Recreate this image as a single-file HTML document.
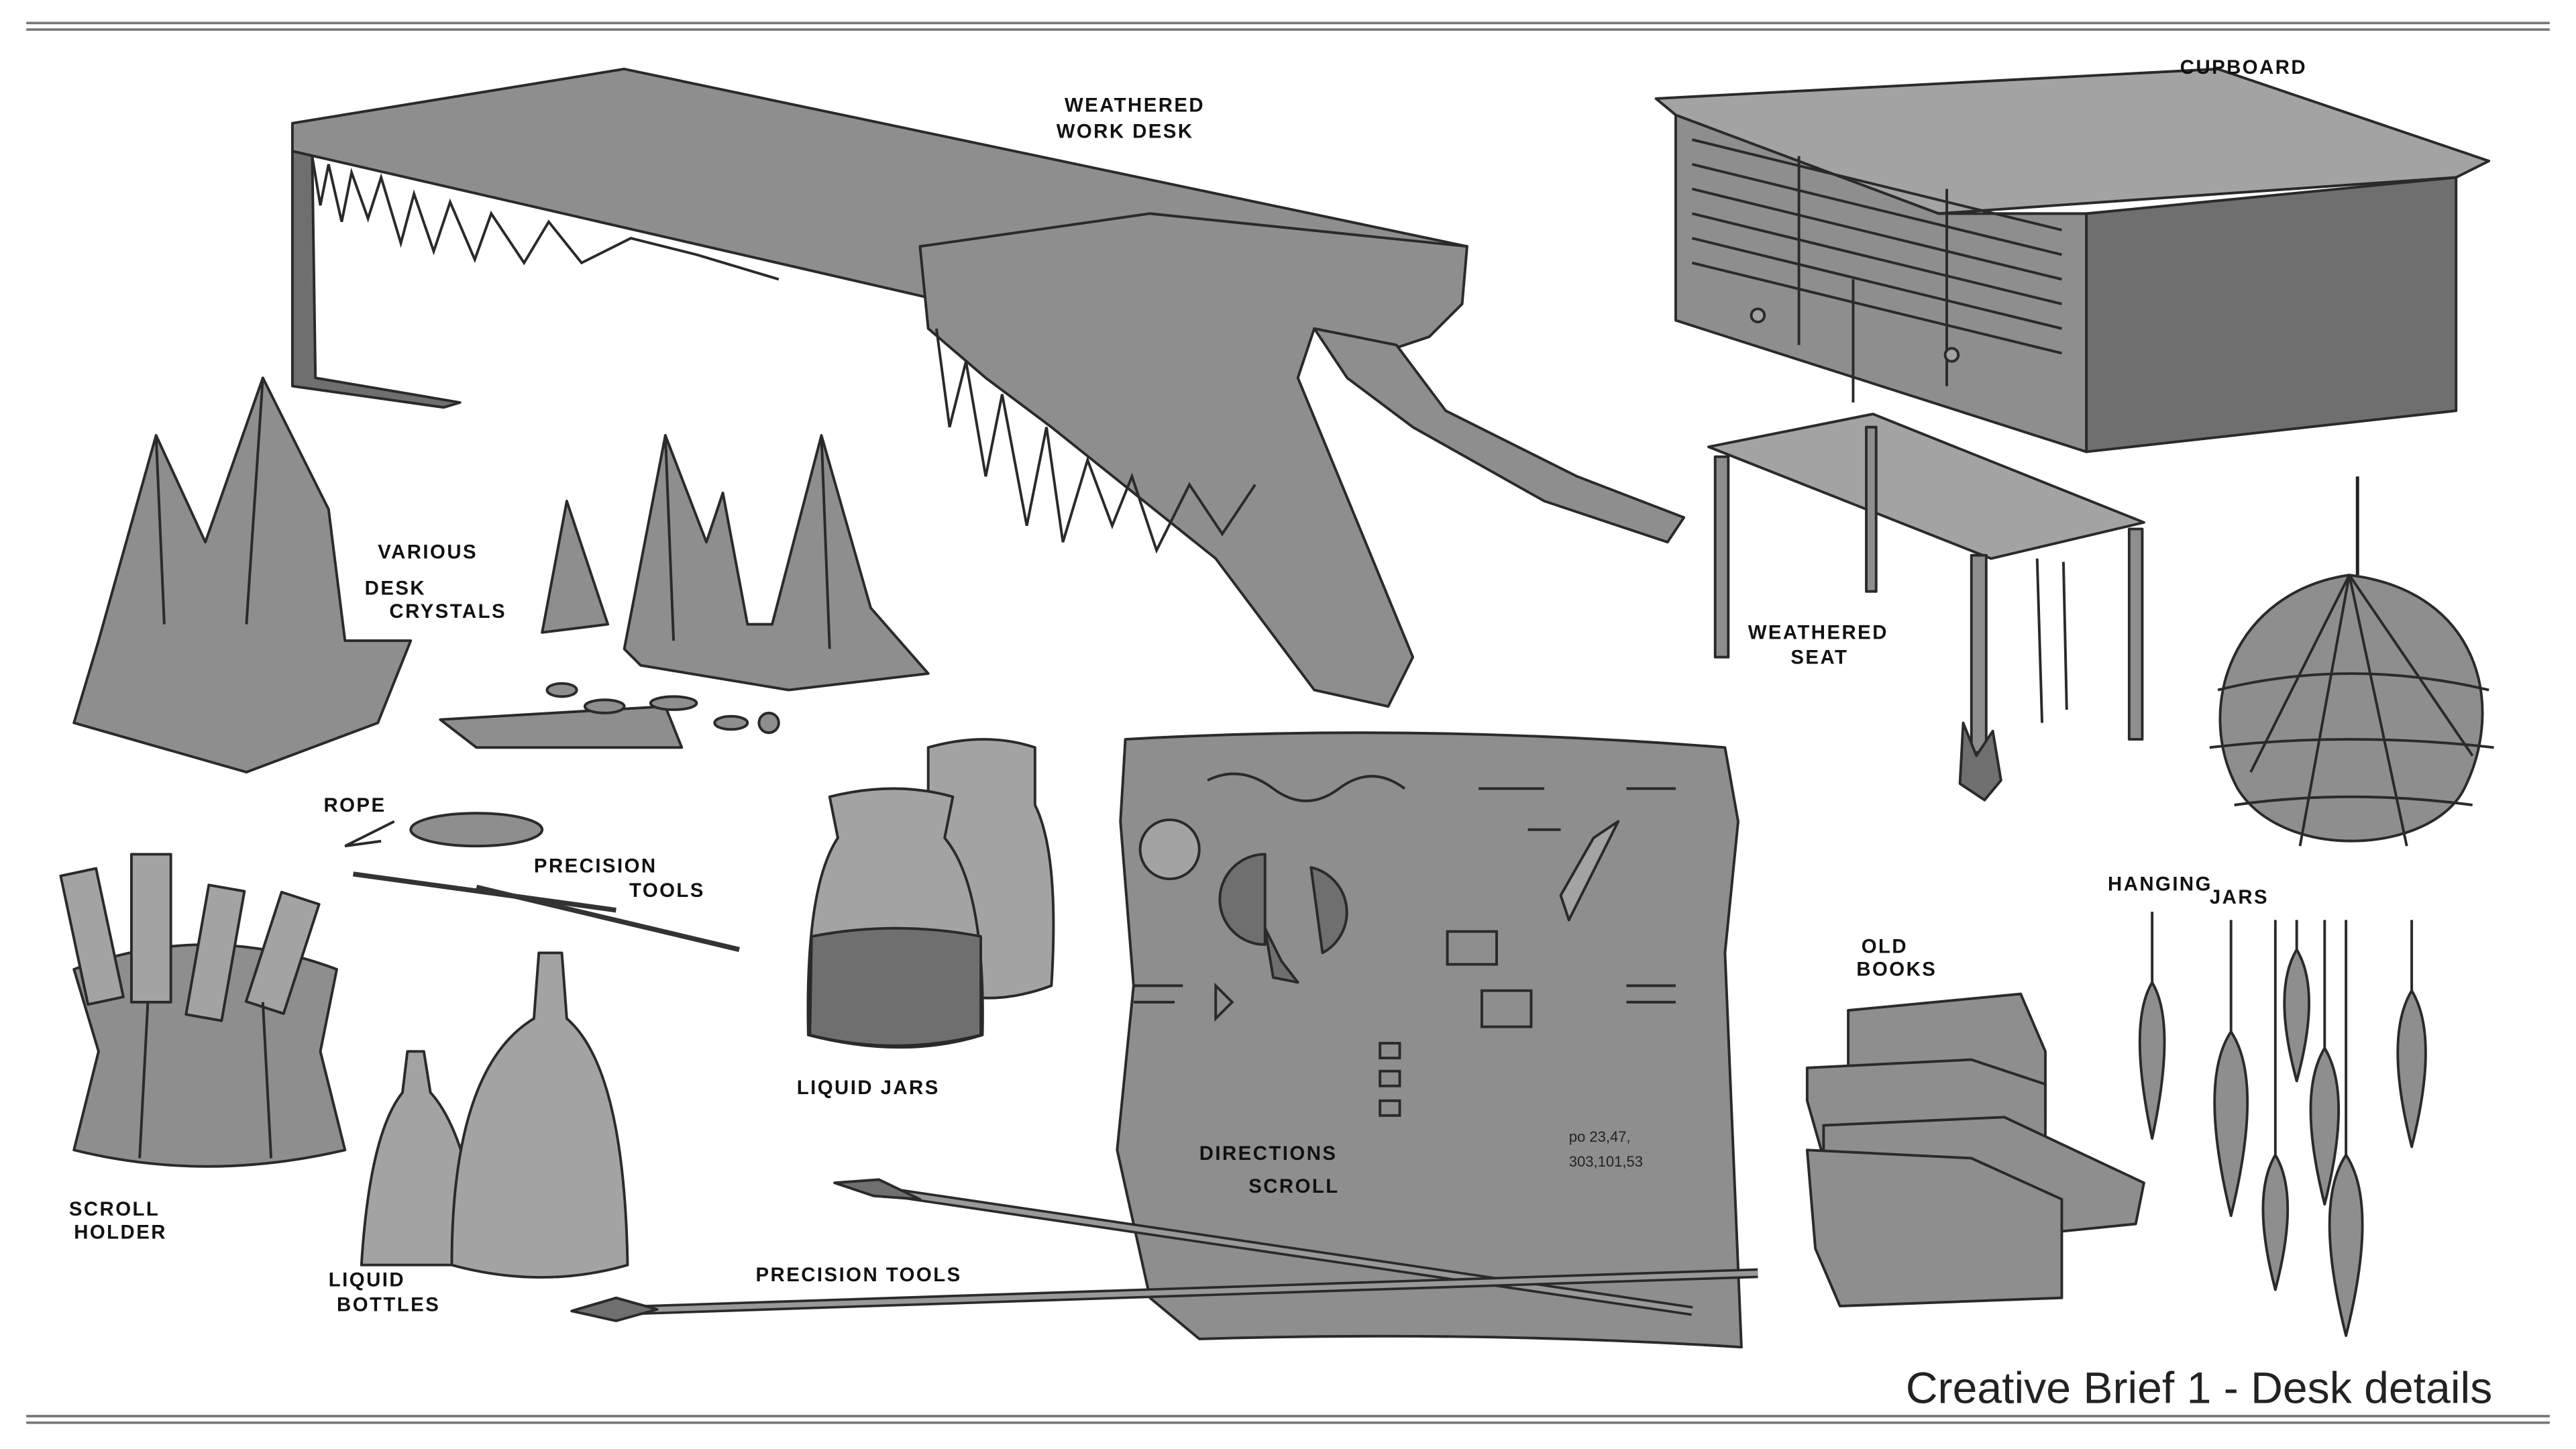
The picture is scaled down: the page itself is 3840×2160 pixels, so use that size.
<!DOCTYPE html>
<html><head><meta charset="utf-8"><style>
html,body{margin:0;padding:0;background:#fff;}
svg{display:block;}
.l{font-family:"Liberation Sans",sans-serif;font-weight:bold;font-size:12px;fill:#111;letter-spacing:1px;}
.g{fill:#8e8e8e;stroke:#2a2a2a;stroke-width:1.6;stroke-linejoin:round;}
.d{fill:#6f6f6f;stroke:#2a2a2a;stroke-width:1.6;stroke-linejoin:round;}
.lt{fill:#a3a3a3;stroke:#2a2a2a;stroke-width:1.6;stroke-linejoin:round;}
.s{fill:none;stroke:#2a2a2a;stroke-width:1.6;}
</style></head><body>
<svg width="3840" height="2160" viewBox="0 0 1568 882" preserveAspectRatio="none" xmlns="http://www.w3.org/2000/svg">
<rect width="1568" height="882" fill="#fff"/>
<line x1="16" y1="14" x2="1552" y2="14" stroke="#777" stroke-width="1.5"/>
<line x1="16" y1="18" x2="1552" y2="18" stroke="#777" stroke-width="1.5"/>
<line x1="16" y1="862" x2="1552" y2="862" stroke="#777" stroke-width="1.5"/>
<line x1="16" y1="866" x2="1552" y2="866" stroke="#777" stroke-width="1.5"/>

<!-- Desk -->
<polygon class="d" points="178,90 190,92 192,230 280,245 270,248 178,235"/>
<polygon class="g" points="178,75 380,42 893,150 890,160 700,210 560,180 178,92"/>
<path class="g" d="M560,150 L700,130 L893,150 L890,185 L870,205 L840,215 L800,200 L790,230 L860,400 L845,430 L800,420 L740,340 L690,300 L640,260 L600,230 L565,200 Z"/>
<path class="g" d="M800,200 L850,210 L880,250 L960,290 L1025,315 L1015,330 L940,305 L860,260 L820,230 Z"/>
<path class="s" d="M190,95 l5,30 l5,-25 l8,35 l6,-30 l10,28 l8,-25 l12,40 l8,-30 l12,35 l10,-30 l15,35 l10,-28 l20,30 l15,-25 l20,25 l30,-15 l40,10 l50,15"/>
<path class="s" d="M570,200 l8,60 l10,-40 l12,70 l10,-50 l15,80 l12,-60 l10,70 l15,-50 l15,40 l12,-30 l15,45 l20,-40 l20,30 l20,-30"/>

<text class="l" x="648" y="68">WEATHERED</text>
<text class="l" x="643" y="84">WORK DESK</text>

<!-- Cupboard -->
<polygon class="lt" points="1008,60 1350,42 1515,98 1495,108 1180,130 1020,70"/>
<polygon class="g" points="1020,70 1180,130 1270,130 1270,275 1020,195"/>
<polygon class="d" points="1270,130 1495,108 1495,250 1270,275"/>
<g class="s">
<line x1="1030" y1="85" x2="1255" y2="140"/><line x1="1030" y1="100" x2="1255" y2="155"/><line x1="1030" y1="115" x2="1255" y2="170"/><line x1="1030" y1="130" x2="1255" y2="185"/><line x1="1030" y1="145" x2="1255" y2="200"/><line x1="1030" y1="160" x2="1255" y2="215"/>
<line x1="1095" y1="95" x2="1095" y2="210"/><line x1="1185" y1="115" x2="1185" y2="235"/><line x1="1128" y1="170" x2="1128" y2="245"/>
</g>
<circle class="lt" cx="1070" cy="192" r="4"/><circle class="lt" cx="1188" cy="216" r="4"/>
<text class="l" x="1327" y="45">CUPBOARD</text>

<!-- Seat -->
<polygon class="lt" points="1040,272 1140,252 1305,318 1212,340"/>
<g class="g"><rect x="1044" y="278" width="8" height="122"/><rect x="1200" y="338" width="9" height="120"/><rect x="1296" y="322" width="8" height="128"/><rect x="1136" y="260" width="6" height="100"/></g>
<path class="d" d="M1195,440 l8,20 l10,-15 l5,30 l-10,12 l-15,-10z"/>
<path class="s" d="M1240,340 l3,100 M1256,342 l2,90"/>
<text class="l" x="1064" y="389">WEATHERED</text>
<text class="l" x="1090" y="404">SEAT</text>

<!-- Hanging net jar -->
<line x1="1435" y1="290" x2="1435" y2="350" stroke="#222" stroke-width="2"/>
<path class="g" d="M1430,350 C1510,360 1525,430 1500,480 C1480,520 1390,525 1362,480 C1335,430 1360,360 1430,350Z"/>
<g class="s" stroke-width="3"><path d="M1430,350 L1370,470 M1430,350 L1400,515 M1430,350 L1465,515 M1430,350 L1505,460 M1350,420 Q1430,400 1515,420 M1345,455 Q1430,445 1518,455 M1360,490 Q1430,480 1505,490"/></g>

<!-- Hanging jars -->
<text class="l" x="1283" y="542">HANGING</text><text class="l" x="1345" y="550">JARS</text>
<g class="s"><line x1="1310" y1="555" x2="1310" y2="600"/><line x1="1358" y1="560" x2="1358" y2="630"/><line x1="1398" y1="560" x2="1398" y2="580"/><line x1="1385" y1="560" x2="1385" y2="705"/><line x1="1415" y1="560" x2="1415" y2="640"/><line x1="1428" y1="560" x2="1428" y2="705"/><line x1="1468" y1="560" x2="1468" y2="605"/></g>
<g class="g">
<path d="M1310,598 q15,25 0,95 q-15,-70 0,-95z"/>
<path d="M1358,628 q20,30 0,112 q-20,-82 0,-112z"/>
<path d="M1398,578 q15,25 0,80 q-15,-55 0,-80z"/>
<path d="M1415,638 q17,28 0,95 q-17,-67 0,-95z"/>
<path d="M1468,603 q17,28 0,95 q-17,-67 0,-95z"/>
<path d="M1385,703 q15,25 0,82 q-15,-57 0,-82z"/>
<path d="M1428,703 q20,30 0,110 q-20,-80 0,-110z"/>
</g>

<!-- Crystals -->
<g class="g">
<path d="M45,440 L60,390 L95,265 L125,330 L160,230 L200,310 L210,390 L250,390 L230,440 L150,470 Z"/>
<path d="M330,385 L345,305 L370,380Z"/>
<path d="M380,395 L405,265 L430,330 L440,300 L455,380 L470,380 L500,265 L530,370 L565,410 L480,420 L390,405Z"/>
</g>
<g class="s"><path d="M95,265 L100,380 M160,230 L150,380 M405,265 L410,390 M500,265 L505,395"/></g>
<text class="l" x="230" y="340">VARIOUS</text><text class="l" x="222" y="362">DESK</text><text class="l" x="237" y="376">CRYSTALS</text>
<polygon class="g" points="268,438 405,430 415,455 290,455"/>
<g class="g"><ellipse cx="342" cy="420" rx="9" ry="4"/><ellipse cx="368" cy="430" rx="12" ry="4"/><ellipse cx="410" cy="428" rx="14" ry="4"/><ellipse cx="445" cy="440" rx="10" ry="4"/><ellipse cx="468" cy="440" rx="6" ry="6"/></g>

<!-- Rope & tools -->
<text class="l" x="197" y="494">ROPE</text>
<ellipse class="g" cx="290" cy="505" rx="40" ry="10"/>
<path class="s" d="M240,500 L210,515 L232,512"/>
<line x1="215" y1="532" x2="375" y2="554" stroke="#333" stroke-width="3"/>
<line x1="290" y1="540" x2="450" y2="578" stroke="#333" stroke-width="3"/>
<text class="l" x="325" y="531">PRECISION</text><text class="l" x="383" y="546">TOOLS</text>

<!-- Scroll holder -->
<path class="g" d="M45,590 Q125,560 205,590 L195,640 L210,700 Q125,720 45,700 L60,640 Z"/>
<g class="lt"><rect x="45" y="530" width="22" height="80" transform="rotate(-12 56 570)"/><rect x="80" y="520" width="24" height="90"/><rect x="120" y="540" width="22" height="80" transform="rotate(10 131 580)"/><rect x="160" y="545" width="24" height="70" transform="rotate(18 172 580)"/></g>
<g class="s"><line x1="90" y1="610" x2="85" y2="705"/><line x1="160" y1="610" x2="165" y2="705"/></g>
<text class="l" x="42" y="740">SCROLL</text><text class="l" x="45" y="754">HOLDER</text>

<!-- Liquid jars -->
<path class="lt" d="M565,455 Q600,445 630,455 L630,490 Q645,520 640,600 Q600,615 565,600 Z"/>
<path class="lt" d="M505,485 Q545,475 580,485 L575,510 Q600,540 598,630 Q550,645 492,630 Q490,540 510,510 Z"/>
<path class="d" d="M494,570 Q545,560 597,570 L597,630 Q545,643 493,630Z"/>
<text class="l" x="485" y="666">LIQUID JARS</text>

<!-- Liquid bottles -->
<path class="lt" d="M248,640 L258,640 L262,665 Q285,690 295,770 L220,770 Q225,690 245,665Z"/>
<path class="lt" d="M328,580 L342,580 L345,620 Q380,650 382,770 Q330,785 275,770 Q275,650 325,620Z"/>
<text class="l" x="200" y="783">LIQUID</text><text class="l" x="205" y="798">BOTTLES</text>

<!-- Directions scroll -->
<path class="g" d="M685,450 Q860,440 1050,455 L1058,500 L1050,580 L1060,820 Q900,810 730,815 L700,790 L680,700 L690,600 L682,500 Z"/>
<path class="s" d="M735,475 q20,-10 40,5 t40,0 t40,0 M900,480 l40,0 M930,505 l20,0 M990,480 l30,0 M990,600 l30,0 M990,610 l30,0"/>
<circle class="lt" cx="712" cy="517" r="18"/>
<path class="d" d="M770,520 A26,26 0 1,0 770,575 Z"/>
<path class="d" d="M798,528 A28,28 0 0,1 805,580 Z"/>
<path class="d" d="M770,565 L780,585 L790,598 L775,595Z"/>
<polygon class="lt" points="970,510 985,500 955,560 950,545"/>
<g class="s"><rect x="881" y="567" width="30" height="20"/><rect x="902" y="603" width="30" height="22"/><rect x="840" y="635" width="12" height="9"/><rect x="840" y="652" width="12" height="9"/><rect x="840" y="670" width="12" height="9"/><path d="M740,600 l10,10 l-10,10z M690,600 l30,0 M690,610 l25,0"/></g>
<text x="955" y="695" font-family="Liberation Sans" font-size="9" fill="#222">po 23,47,</text>
<text x="955" y="710" font-family="Liberation Sans" font-size="9" fill="#222">303,101,53</text>
<text class="l" x="730" y="706">DIRECTIONS</text><text class="l" x="760" y="726">SCROLL</text>

<!-- Spears -->
<path d="M530,724 L1030,798" stroke="#2a2a2a" stroke-width="6"/>
<path d="M530,724 L1030,798" stroke="#999" stroke-width="3"/>
<path d="M370,798 L1070,775" stroke="#2a2a2a" stroke-width="6"/>
<path d="M370,798 L1070,775" stroke="#999" stroke-width="3"/>
<polygon class="d" points="348,798 375,790 400,797 375,804"/>
<polygon class="d" points="508,720 535,718 560,730 532,728"/>
<text class="l" x="460" y="780">PRECISION TOOLS</text>

<!-- Books -->
<text class="l" x="1133" y="580">OLD</text><text class="l" x="1130" y="594">BOOKS</text>
<g class="g">
<polygon points="1125,615 1230,605 1245,640 1245,680 1130,685 1125,650"/>
<polygon points="1100,650 1200,645 1245,660 1245,700 1110,705 1100,670"/>
<polygon points="1110,685 1220,680 1305,720 1300,745 1200,755 1110,715"/>
<polygon points="1100,700 1200,705 1255,730 1255,790 1120,795 1105,760"/>
</g>

<text x="1160" y="854" font-family="Liberation Sans" font-size="27" fill="#222">Creative Brief 1 - Desk details</text>
</svg>
</body></html>
